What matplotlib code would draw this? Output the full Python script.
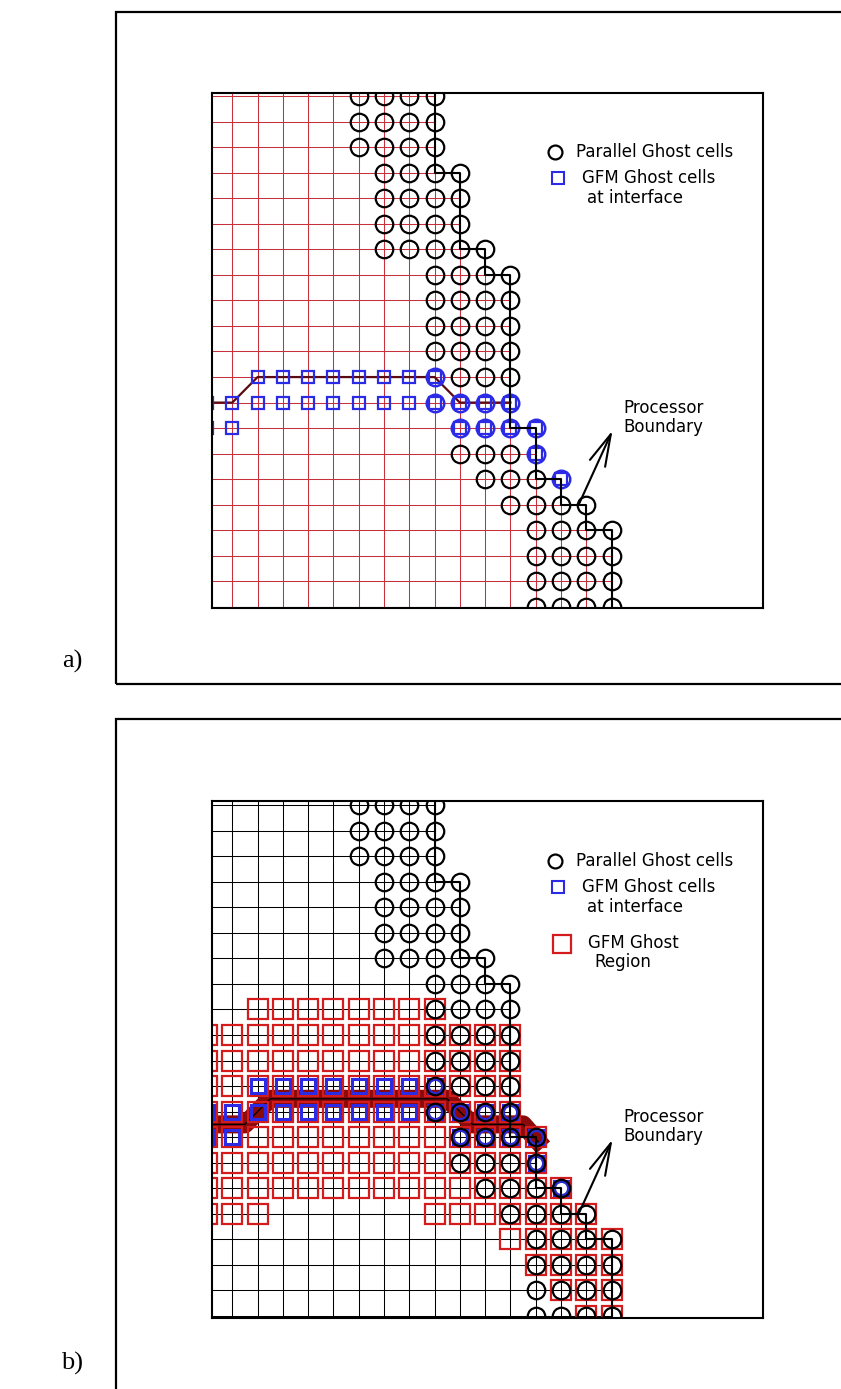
import matplotlib
matplotlib.use('Agg')
import matplotlib.pyplot as plt
from matplotlib.patches import Rectangle, FancyArrowPatch
from matplotlib.lines import Line2D

W, H = 841, 1389

# ---------------- data (grid indices: column, row; row 0 at top) ----------------
ghost_rows  = list(range(21))
ghost_first = [5, 5, 5, 6, 6, 6, 6, 8, 8, 8, 8, 8, 8, 9, 9, 10, 11, 12, 12, 12, 12]
ghost_last  = [8, 8, 8, 9, 9, 9, 10, 11, 11, 11, 11, 11, 11, 12, 12, 13, 14, 15, 15, 15, 15]

boundary_cols = [8, 8, 9, 9, 10, 10, 11, 11, 12, 12, 13, 13, 14, 14, 15, 15]
boundary_rows = [-1, 3, 3, 6, 6, 7, 7, 13, 13, 15, 15, 16, 16, 17, 17, 21]

gfm_rows  = [11, 12, 13, 13, 14, 15]
gfm_first = [1, -1, -1, 9, 12, 13]
gfm_last  = [8, 11, 0, 12, 12, 13]

region_rows  = [8, 9, 10, 11, 12, 13, 14, 15, 16, 16, 17, 18, 19, 20]
region_first = [1, -1, -1, -1, -1, -1, -1, -1, -1, 8, 11, 12, 13, 14]
region_last  = [8, 11, 11, 11, 11, 12, 12, 13, 1, 14, 15, 15, 15, 15]

interface_cols_a = [-1, 0, 1, 8, 9, 11]
interface_rows_a = [12, 12, 11, 11, 12, 12]
interface_cols_b = [-1, 0.5, 1.5, 8.5, 9.5, 11.5, 12.3]
interface_rows_b = [12.5, 12.5, 11.5, 11.5, 12.5, 12.5, 13.4]

grid_rows = list(range(-1, 22))
grid_cols = list(range(-1, 16))

legend_labels = ["Parallel Ghost cells", "GFM Ghost cells", "at interface", "GFM Ghost", "Region"]
boundary_label = ["Processor", "Boundary"]

FONT = 'DejaVu Sans'
FS = 12


def expand(rows, first, last):
    xs, ys = [], []
    for r, a, b in zip(rows, first, last):
        for c in range(a, b + 1):
            xs.append(c)
            ys.append(r)
    return xs, ys


def row_extent(r):
    best = None
    for i in range(len(boundary_cols) - 1):
        c0, c1 = boundary_cols[i], boundary_cols[i + 1]
        r0, r1 = boundary_rows[i], boundary_rows[i + 1]
        if c0 == c1 and min(r0, r1) <= r <= max(r0, r1):
            best = c0 if best is None else max(best, c0)
    return best


def px2fig(x, y):
    return x / W, 1 - y / H


fig = plt.figure(figsize=(W / 100, H / 100), dpi=100)
fig.patch.set_facecolor('white')

XL = (-0.783, 20.99)
BLUE = '#2b2be6'
RED = '#d41c1c'
GRIDRED = '#c8303c'


def make_axes(top, bottom, row0):
    left, right = 212.5, 763
    ax = fig.add_axes([left / W, 1 - bottom / H, (right - left) / W, (bottom - top) / H])
    ax.set_xlim(*XL)
    ax.set_ylim((bottom - row0) / 25.55, (top - row0) / 25.55)
    ax.set_xticks([])
    ax.set_yticks([])
    for s in ax.spines.values():
        s.set_linewidth(1.5)
        s.set_zorder(20)
    return ax


def draw_grid(ax, color):
    for r in grid_rows:
        e = row_extent(r)
        if e is None:
            continue
        ax.plot([-2, e], [r, r], color=color, lw=0.75, zorder=1)
    for c in grid_cols:
        starts = [r for r in grid_rows if row_extent(r) is not None and row_extent(r) >= c]
        if not starts:
            continue
        ax.plot([c, c], [min(starts), 22], color=color, lw=0.75, zorder=1)


def draw_common(ax, gfm_size, gfm_lw, blue_circles):
    gx, gy = expand(ghost_rows, ghost_first, ghost_last)
    fx, fy = expand(gfm_rows, gfm_first, gfm_last)
    gfm_set = set(zip(fx, fy))
    ax.plot(fx, fy, ls='none', marker='s', ms=gfm_size, mfc='none', mec=BLUE, mew=gfm_lw, zorder=6)
    ox = [x for x, y in zip(gx, gy) if (x, y) in gfm_set]
    oy = [y for x, y in zip(gx, gy) if (x, y) in gfm_set]
    if blue_circles:
        bx = [x for x, y in zip(gx, gy) if (x, y) not in gfm_set]
        by = [y for x, y in zip(gx, gy) if (x, y) not in gfm_set]
        ax.plot(bx, by, ls='none', marker='o', ms=12.6, mfc='none', mec='black', mew=1.6, zorder=7)
        ax.plot(ox, oy, ls='none', marker='o', ms=12.6, mfc='none', mec=BLUE, mew=1.8, zorder=7)
    else:
        ax.plot(ox, oy, ls='none', marker='o', ms=10.6, mfc='none', mec='#2a2ad0', mew=2.6, zorder=6.5)
        ax.plot(gx, gy, ls='none', marker='o', ms=12.6, mfc='none', mec='black', mew=1.6, zorder=7)
    ax.plot(boundary_cols, boundary_rows, color='black', lw=1.5, zorder=8)


def legend_and_labels(off, with_region):
    cx, cy = px2fig(555, 152 + off)
    fig.add_artist(Line2D([cx], [cy], ls='none', marker='o', ms=10, mfc='none', mec='black', mew=1.6,
                          transform=fig.transFigure))
    x, y = px2fig(576.5, 152 + off)
    fig.text(x, y, legend_labels[0], family=FONT, fontsize=FS, va='center', ha='left')
    cx, cy = px2fig(558, 178 + off)
    fig.add_artist(Line2D([cx], [cy], ls='none', marker='s', ms=8.8, mfc='none', mec=BLUE, mew=1.5,
                          transform=fig.transFigure))
    x, y = px2fig(582, 178 + off)
    fig.text(x, y, legend_labels[1], family=FONT, fontsize=FS, va='center', ha='left')
    x, y = px2fig(587, 198 + off)
    fig.text(x, y, legend_labels[2], family=FONT, fontsize=FS, va='center', ha='left')
    if with_region:
        cx, cy = px2fig(562, 235 + off)
        fig.add_artist(Line2D([cx], [cy], ls='none', marker='s', ms=12.5, mfc='none', mec=RED, mew=1.6,
                              transform=fig.transFigure))
        x, y = px2fig(588, 234 + off)
        fig.text(x, y, legend_labels[3], family=FONT, fontsize=FS, va='center', ha='left')
        x, y = px2fig(594, 253 + off)
        fig.text(x, y, legend_labels[4], family=FONT, fontsize=FS, va='center', ha='left')
    x, y = px2fig(623, 408 + off)
    fig.text(x, y, boundary_label[0], family=FONT, fontsize=FS, va='center', ha='left')
    x, y = px2fig(623, 427 + off)
    fig.text(x, y, boundary_label[1], family=FONT, fontsize=FS, va='center', ha='left')
    arr = FancyArrowPatch(px2fig(579, 504 + off), px2fig(612.5, 430.5 + off),
                          transform=fig.transFigure, arrowstyle='->,head_length=2.3,head_width=0.6',
                          mutation_scale=10, lw=1.5, color='black', shrinkA=0, shrinkB=0)
    fig.add_artist(arr)


# ---------------- panel a ----------------
axa = make_axes(92.5, 608.5, 96)
draw_grid(axa, GRIDRED)
axa.plot(interface_cols_a, interface_rows_a, color='#5a0a10', lw=1.6, zorder=5)
draw_common(axa, 8.6, 1.6, True)
legend_and_labels(0, False)

# ---------------- panel b ----------------
axb = make_axes(801, 1317.5, 805)
draw_grid(axb, 'black')
axb.plot(interface_cols_b, interface_rows_b, color='#8a0a0a', lw=13, zorder=3,
         solid_joinstyle='round', solid_capstyle='butt')
axb.plot(interface_cols_b, interface_rows_b, color='black', lw=0.9, zorder=3.5)
rx, ry = expand(region_rows, region_first, region_last)
axb.plot(rx, ry, ls='none', marker='s', ms=14.4, mfc='none', mec=RED, mew=1.6, zorder=4)
draw_common(axb, 10.5, 2.2, False)
legend_and_labels(709, True)

# ---------------- panel frames & labels ----------------
for top, bottom in [(12, 684), (719, 1420)]:
    x0, y0 = px2fig(115.5, bottom)
    fig.add_artist(Rectangle((x0, y0), (900 - 115.5) / W, (bottom - top) / H, transform=fig.transFigure,
                             fill=False, ec='black', lw=1.6))

x, y = px2fig(72, 661)
fig.text(x, y, 'a)', family='Liberation Serif', fontsize=19, ha='center', va='center')
x, y = px2fig(72, 1363)
fig.text(x, y, 'b)', family='Liberation Serif', fontsize=19, ha='center', va='center')

fig.savefig('out.png', dpi=100, facecolor='white')
